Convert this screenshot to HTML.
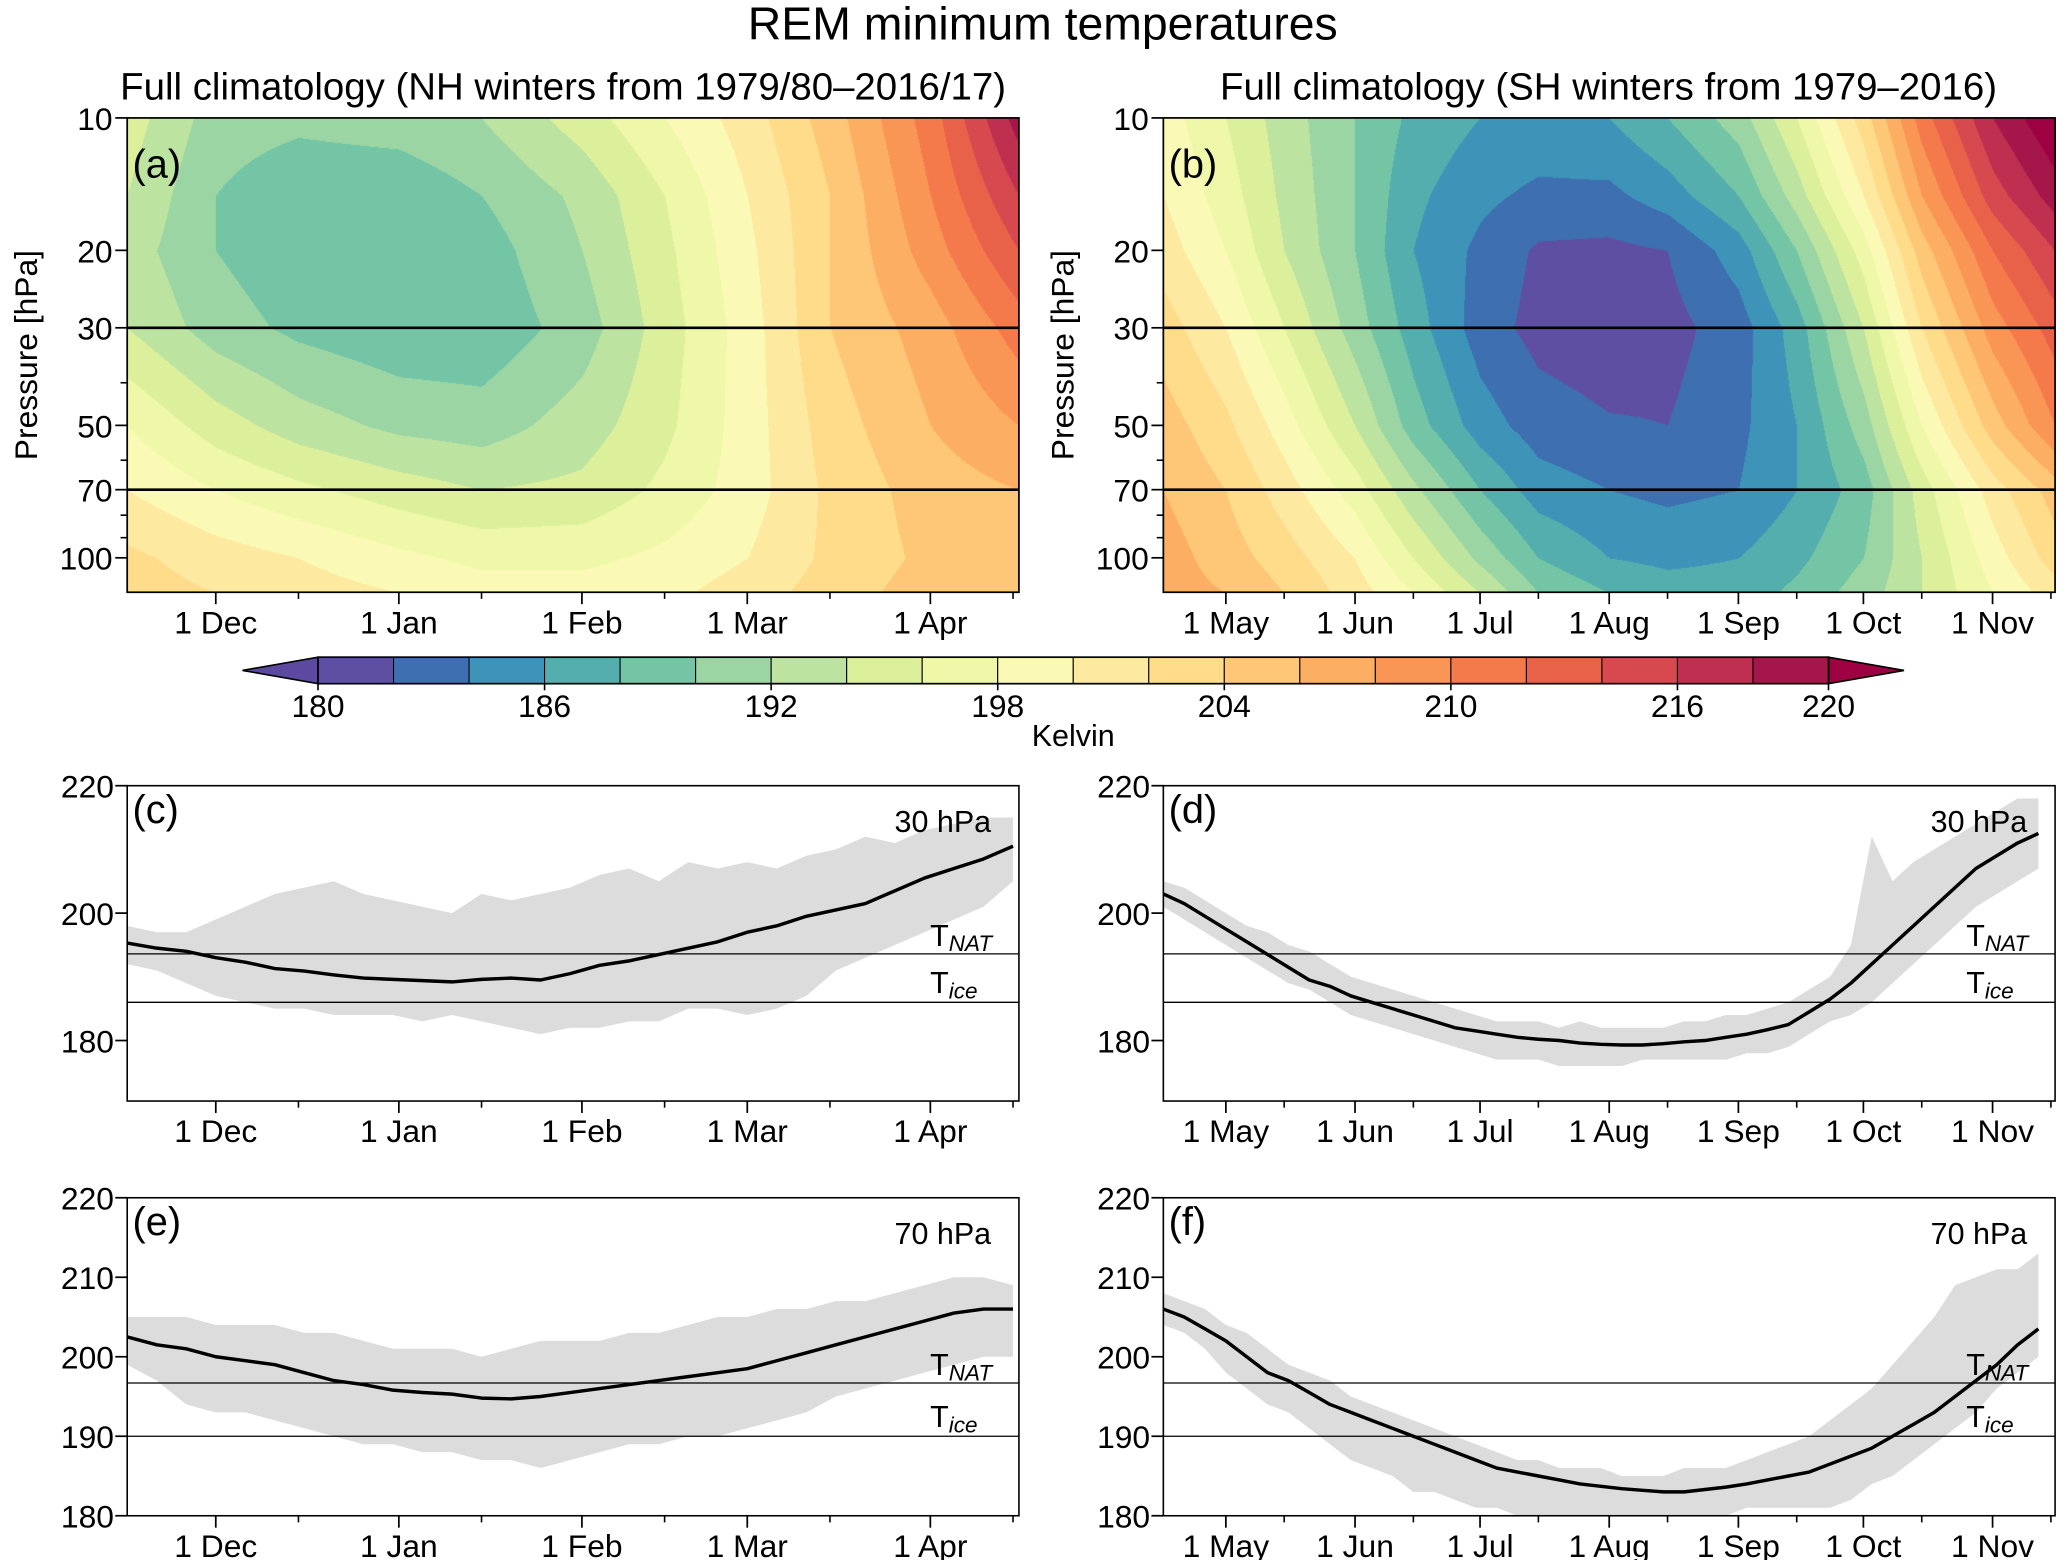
<!DOCTYPE html>
<html><head><meta charset="utf-8">
<style>
html,body{margin:0;padding:0;background:#fff;}
#wrap{position:relative;width:2067px;height:1560px;overflow:hidden;}
canvas{position:absolute;}
svg{position:absolute;left:0;top:0;}
text{font-family:"Liberation Sans",sans-serif;fill:#000;}
</style></head>
<body>
<div id="wrap">
<canvas id="cva"></canvas>
<canvas id="cvb"></canvas>
<svg id="svg" width="2067" height="1560" viewBox="0 0 1560 1177.4" preserveAspectRatio="none"></svg>
</div>
<script>
// ---------- DATA ----------
const levels = [10,15,20,30,50,70,100,120];
const daysA = [0,15,29,46,60,77,91,105,119,136,151];
const tempA = [
 [195,191,190.5,191,192,195,198,201,205,211,219],
 [194,190,188.5,188.5,190,192.5,196,200,204,210,216],
 [193,190,188.5,188.3,189,192,195.5,199.5,204,209,214],
 [194,191,189.5,188.5,188.5,191,195,199,204,207,211],
 [198,195,193,191.5,191,193,195.5,199,203,206,208],
 [200,198,196.5,195,194,194.5,196.5,199,202.5,205,206],
 [202.5,201,200,198.5,197.5,197.5,198.5,200,202.5,204.5,206],
 [203,202,201,200,199,199,199.5,201,203,205,206]];
const daysB = [0,15,29,46,60,76,90,107,121,138,152,168,182,199,214];
const tempB = [
 [199,196,193,190,187.5,186,185.5,186,188,191,196,203,211,218,222],
 [200,197,193.5,190,186.5,184.5,183.5,183.5,185,188,193,200,208,215,219],
 [201,198,194,190,186,183.5,181.7,181.5,182,185,190,197,205,212,216],
 [203,200,196,191,187,183,181.3,180.7,181.3,183,187,194,202,209,213],
 [205,202.5,199,194,189,185,183,182.2,182,183.5,186,191,198,205,210],
 [206,204,201,197,192.5,188,185,184,183.5,184,186,189,195,201,205],
 [207,205,203,200,196,191.5,188,186,185.5,186,187.5,190,194,199,203],
 [207,206,204,201,198,194,190,188,187,187,188.5,191,194,198,201]];
const cbTicks = [180,186,192,198,204,210,216,220];
const monthsA = ["1 Dec","1 Jan","1 Feb","1 Mar","1 Apr"];
const monthDaysA = [15,46,77,105,136];
const minorDaysA = [29,60,91,119,150];
const monthsB = ["1 May","1 Jun","1 Jul","1 Aug","1 Sep","1 Oct","1 Nov"];
const monthDaysB = [15,46,76,107,138,168,199];
const minorDaysB = [29,60,90,121,152,182,213];
// line panels (5-day sampling)
const meanC = [195.3,194.5,194,193,192.3,191.3,190.9,190.3,189.8,189.6,189.4,189.2,189.6,189.8,189.5,190.5,191.8,192.5,193.5,194.5,195.5,197,198,199.5,200.5,201.5,203.5,205.5,207,208.5,210.5];
const highC = [198,197,197,199,201,203,204,205,203,202,201,200,203,202,203,204,206,207,205,208,207,208,207,209,210,212,211,213,214,215,215];
const lowC  = [192,191,189,187,186,185,185,184,184,184,183,184,183,182,181,182,182,183,183,185,185,184,185,187,191,193,195,197,199,201,205];
const meanE = [202.5,201.5,201,200,199.5,199,198,197,196.5,195.8,195.5,195.3,194.8,194.7,195,195.5,196,196.5,197,197.5,198,198.5,199.5,200.5,201.5,202.5,203.5,204.5,205.5,206,206];
const highE = [205,205,205,204,204,204,203,203,202,201,201,201,200,201,202,202,202,203,203,204,205,205,206,206,207,207,208,209,210,210,209];
const lowE  = [199,197,194,193,193,192,191,190,189,189,188,188,187,187,186,187,188,189,189,190,190,191,192,193,195,196,197,198,199,200,200];
const meanD = [203,201.5,199.5,197.5,195.5,193.5,191.5,189.5,188.5,187,186,185,184,183,182,181.5,181,180.5,180.2,180,179.6,179.4,179.3,179.3,179.5,179.8,180,180.5,181,181.7,182.5,184.5,186.5,189,192,195,198,201,204,207,209,211,212.5];
const highD = [205,204,202,200,198,197,195,194,192,190,189,188,187,186,185,184,183,183,183,182,183,182,182,182,182,183,183,184,184,185,186,188,190,195,212,205,208,210,212,214,216,218,218];
const lowD  = [201,199,197,195,193,191,189,188,186,184,183,182,181,180,179,178,177,177,177,176,176,176,176,177,177,177,177,177,178,178,179,181,183,184,186,189,192,195,198,201,203,205,207];
const meanF = [206,205,203.5,202,200,198,197,195.5,194,193,192,191,190,189,188,187,186,185.5,185,184.5,184,183.7,183.4,183.2,183,183,183.3,183.6,184,184.5,185,185.5,186.5,187.5,188.5,190,191.5,193,195,197,199,201.5,203.5];
const highF = [208,207,206,204,203,201,199,198,197,195,194,193,192,191,190,189,188,187,187,186,186,186,185,185,185,186,186,186,187,188,189,190,192,194,196,199,202,205,209,210,211,211,213];
const lowF  = [204,203,201,198,196,194,193,191,189,187,186,185,183,183,182,181,181,180,180,180,180,180,180,180,180,180,180,180,181,181,181,181,181,182,184,185,187,189,191,193,196,198,200];
const tNat30 = 193.6, tIce30 = 186, tNat70 = 196.7, tIce70 = 190;

// ---------- helpers ----------
const colors = ["#5e4fa2","#3e6fb0","#3d94b8","#54aead","#74c5a5","#9bd5a4","#bde3a0","#dcf09c","#eef8a8","#fbf9b6","#fee9a0","#fedc8a","#fdc777","#fcae63","#f99555","#f57a4b","#e8624a","#d7494f","#bf2f50","#a5174a"];
const colLow = "#5b4aa0", colHigh = "#9e0142";
function tcolor(t){ if(t<180) return colLow; if(t>=220) return colHigh; return colors[Math.floor((t-180)/2)]; }
const S = 1.325;
const NS="http://www.w3.org/2000/svg";
const svg=document.getElementById('svg');
function el(tag,attrs,parent){const e=document.createElementNS(NS,tag);for(const k in attrs)e.setAttribute(k,attrs[k]);(parent||svg).appendChild(e);return e;}
function txt(x,y,s,size,anchor,name,parent){const t=el('text',{x:x,y:y,'font-size':size,'text-anchor':anchor||'middle'},parent);t.textContent=s;return t;}

const PT=89,PB=447,PW=673;
function yP(p){return PT+(Math.log10(p)-1)*332;}
function interp(days,temp,d,p){
  const lp=Math.log10(p);
  let i=0; while(i<days.length-2 && d>days[i+1]) i++;
  let j=0; while(j<levels.length-2 && lp>Math.log10(levels[j+1])) j++;
  let fx=(d-days[i])/(days[i+1]-days[i]); fx=Math.max(0,Math.min(1,fx));
  let fy=(lp-Math.log10(levels[j]))/(Math.log10(levels[j+1])-Math.log10(levels[j])); fy=Math.max(0,Math.min(1,fy));
  const a=temp[j][i],b=temp[j][i+1],c=temp[j+1][i],e=temp[j+1][i+1];
  return a*(1-fx)*(1-fy)+b*fx*(1-fy)+c*(1-fx)*fy+e*fx*fy;
}
function drawContour(id,x0,days,temp){
  const cv=document.getElementById(id);
  const W=Math.round(PW*S),H=Math.round((PB-PT)*S);
  cv.width=W;cv.height=H;cv.style.left=(x0*S)+'px';cv.style.top=(PT*S)+'px';
  const ctx=cv.getContext('2d');const span=days[days.length-1];
  const img=ctx.createImageData(W,H);
  for(let y=0;y<H;y++){const py=PT+y/S;const p=Math.pow(10,1+(py-PT)/332);
    for(let x=0;x<W;x++){const d=x/W*span;
      const c=tcolor(interp(days,temp,d,p));const k=(y*W+x)*4;
      img.data[k]=parseInt(c.substr(1,2),16);img.data[k+1]=parseInt(c.substr(3,2),16);img.data[k+2]=parseInt(c.substr(5,2),16);img.data[k+3]=255;}}
  ctx.putImageData(img,0,0);
}
drawContour('cva',96,daysA,tempA);
drawContour('cvb',878,daysB,tempB);

txt(787,30,"REM minimum temperatures",35,'middle','figure-title');
txt(425,75,"Full climatology (NH winters from 1979/80\u20132016/17)",29,'middle','panel-a-title');
txt(1214,75,"Full climatology (SH winters from 1979\u20132016)",29,'middle','panel-b-title');

function xAxis(g,x0,span,mDays,mLabels,minor,yb){
  const pxd=PW/span;
  mDays.forEach((d,i)=>{const x=x0+d*pxd;const l=el('line',{x1:x,x2:x,y1:yb,y2:yb+9,stroke:'#000','stroke-width':1.3},g);
    
    txt(x,yb+31,mLabels[i],24,'middle','x-tick-label',g);});
  minor.forEach(d=>{const x=x0+d*pxd;const l=el('line',{x1:x,x2:x,y1:yb,y2:yb+5,stroke:'#000','stroke-width':1.2},g);
    });
}
function contourAxes(x0,label,days,mDays,mLabels,minor,name){
  const g=el('g',{});
  const r=el('rect',{x:x0,y:PT,width:PW,height:PB-PT,fill:'none',stroke:'#000','stroke-width':1.3},g);
  
  [10,20,30,50,70,100].forEach(p=>{const y=yP(p);const l=el('line',{x1:x0-9,x2:x0,y1:y,y2:y,stroke:'#000','stroke-width':1.3},g);
    
    txt(x0-11,y+9,String(p),24,'end','y-tick-label',g);});
  [40,60,80,90].forEach(p=>{const y=yP(p);const l=el('line',{x1:x0-5,x2:x0,y1:y,y2:y,stroke:'#000','stroke-width':1.2},g);
    });
  [30,70].forEach(p=>{const y=yP(p);const l=el('line',{x1:x0,x2:x0+PW,y1:y,y2:y,stroke:'#000','stroke-width':2},g);
    });
  const t=txt(0,0,"Pressure [hPa]",24,'middle','y-axis-title',g);t.setAttribute('transform',`translate(${x0-68},${(PT+PB)/2}) rotate(-90)`);
  txt(x0+4,134,label,30,'start','panel-label',g);
  xAxis(g,x0,days[days.length-1],mDays,mLabels,minor,PB);
}
contourAxes(96,"(a)",daysA,monthDaysA,monthsA,minorDaysA,'panel-a');
contourAxes(878,"(b)",daysB,monthDaysB,monthsB,minorDaysB,'panel-b');

(function(){
  const g=el('g',{});
  const cx0=240,cx1=1380,y0=496,y1=516,w=(cx1-cx0)/20;
  const lt=el('polygon',{points:`${cx0},${y0} ${cx0},${y1} 183,${(y0+y1)/2}`,fill:colLow,stroke:'#000','stroke-width':1.2},g);
  
  const rt=el('polygon',{points:`${cx1},${y0} ${cx1},${y1} 1437,${(y0+y1)/2}`,fill:colHigh,stroke:'#000','stroke-width':1.2},g);
  
  colors.forEach((c,i)=>{const r=el('rect',{x:cx0+i*w,y:y0,width:w,height:y1-y0,fill:c,stroke:'#000','stroke-width':0.8},g);
    });
  const fr=el('rect',{x:cx0,y:y0,width:cx1-cx0,height:y1-y0,fill:'none',stroke:'#000','stroke-width':1.3},g);
  
  cbTicks.forEach(v=>{const x=cx0+(v-180)/40*(cx1-cx0);
    const l=el('line',{x1:x,x2:x,y1:y1,y2:y1+5,stroke:'#000','stroke-width':1.2},g);
    
    txt(x,541,String(v),24,'middle','colorbar-tick-label',g);});
  txt(810,563,"Kelvin",23,'middle','colorbar-label',g);
})();

function linePanel(x0,top,bot,ymin,ymax,ticks,mean,high,low,span,mDays,mLabels,minor,label,lev,tn,ti,name){
  const g=el('g',{});
  const pxd=PW/span;
  const yv=v=>bot-(Math.max(ymin,Math.min(ymax,v))-ymin)/(ymax-ymin)*(bot-top);
  const xd=i=>x0+Math.min(span,i*5)*pxd;
  let d='M'+high.map((v,i)=>xd(i)+','+yv(v)).join(' L')+' L'+low.map((v,i)=>[i,v]).reverse().map(a=>xd(a[0])+','+yv(a[1])).join(' L')+'Z';
  const band=el('path',{d:d,fill:'#dcdcdc',stroke:'none'},g);
  [[tn,'t-nat-line'],[ti,'t-ice-line']].forEach(a=>{const l=el('line',{x1:x0,x2:x0+PW,y1:yv(a[0]),y2:yv(a[0]),stroke:'#000','stroke-width':1},g);
    });
  const m=el('path',{d:'M'+mean.map((v,i)=>xd(i)+','+yv(v)).join(' L'),fill:'none',stroke:'#000','stroke-width':2.6,'stroke-linejoin':'round'},g);
  
  const fr=el('rect',{x:x0,y:top,width:PW,height:bot-top,fill:'none',stroke:'#000','stroke-width':1.2},g);
  
  ticks.forEach(v=>{const y=yv(v);const l=el('line',{x1:x0-9,x2:x0,y1:y,y2:y,stroke:'#000','stroke-width':1.3},g);
    
    txt(x0-10,y+9,String(v),24,'end','y-tick-label',g);});
  txt(x0+4,top+28,label,30,'start','panel-label',g);
  txt(x0+652,top+35,lev+" hPa",23,'end','level-label',g);
  const a=el('text',{x:x0+606,y:yv(tn)-6,'font-size':23},g);
  a.innerHTML='T<tspan font-size="17" font-style="italic" dy="4">NAT</tspan>';
  const b=el('text',{x:x0+606,y:yv(ti)-7,'font-size':23},g);
  b.innerHTML='T<tspan font-size="17" font-style="italic" dy="4">ice</tspan>';
  xAxis(g,x0,span,mDays,mLabels,minor,bot);
}
linePanel(96,593,831,170.5,220,[180,200,220],meanC,highC,lowC,151,monthDaysA,monthsA,minorDaysA,"(c)",30,tNat30,tIce30,'panel-c');
linePanel(878,593,831,170.5,220,[180,200,220],meanD,highD,lowD,214,monthDaysB,monthsB,minorDaysB,"(d)",30,tNat30,tIce30,'panel-d');
linePanel(96,904,1144,180,220,[180,190,200,210,220],meanE,highE,lowE,151,monthDaysA,monthsA,minorDaysA,"(e)",70,tNat70,tIce70,'panel-e');
linePanel(878,904,1144,180,220,[180,190,200,210,220],meanF,highF,lowF,214,monthDaysB,monthsB,minorDaysB,"(f)",70,tNat70,tIce70,'panel-f');
</script>
</body></html>
